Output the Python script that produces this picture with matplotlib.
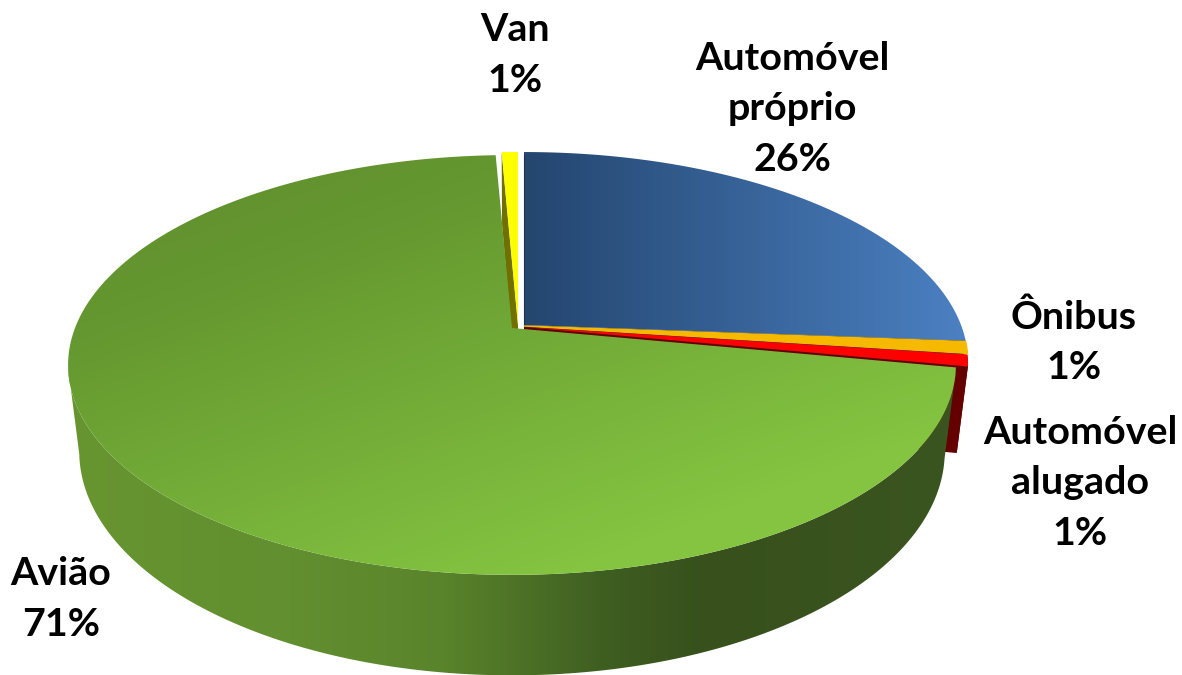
import numpy as np
import matplotlib
matplotlib.use("Agg")
import matplotlib.pyplot as plt
from matplotlib.colors import LinearSegmentedColormap
from matplotlib.patches import Polygon

plt.rcParams['font.family'] = ['Lato', 'DejaVu Sans']

# values (labels are rounded)
categories = ['Automóvel\npróprio', 'Ônibus', 'Automóvel\nalugado', 'Avião', 'Van']
values = [26.2, 0.9, 0.9, 71.3, 0.7]
percent_labels = ['26%', '1%', '1%', '71%', '1%']

# label anchor in pixels
label_x = [792, 1074, 1080, 61, 515]
label_y = [109, 342, 483, 599, 55]

# explosion of each slice: apex position
apex_x = [524, 524, 524, 512, 518]
apex_y = [325, 326, 327, 328, 325]

# perspective of the disc
A_TOP, B_TOP = 437, 203.4
A_BOT, B_BOT = 426, 217
DROP = 84
K = 0.176


def project(ang, i, lower=False):
    # angle is clockwise from 12 o'clock
    X = np.sin(ang)
    Y = np.cos(ang)
    a, b = (A_BOT, B_BOT) if lower else (A_TOP, B_TOP)
    w = 1 + K * Y
    sx = apex_x[i] + a * X / w
    sy = apex_y[i] + (DROP if lower else 0) - b * Y / w
    return sx, sy


def apex(i, lower=False):
    return apex_x[i], apex_y[i] + (DROP if lower else 0)


def top_outline(i):
    x, y = project(np.linspace(start[i], end[i], 200), i)
    ax_, ay_ = apex(i)
    return np.column_stack([np.r_[ax_, x], np.r_[ay_, y]])


def wall_outline(i, a0, a1):
    t = np.linspace(a0, a1, 300)
    x0, y0 = project(t, i)
    x1, y1 = project(t, i, lower=True)
    return np.column_stack([np.r_[x0, x1[::-1]], np.r_[y0, y1[::-1]]])


def face_outline(i, ang):
    x0, y0 = project(np.array([ang]), i)
    x1, y1 = project(np.array([ang]), i, lower=True)
    ax0, ay0 = apex(i)
    ax1, ay1 = apex(i, lower=True)
    return np.array([[ax0, ay0], [x0[0], y0[0]], [x1[0], y1[0]], [ax1, ay1]])


def gradient_fill(ax, outline, colors, angle, zorder):
    # linear gradient over the bounding box, clipped to the outline
    x0, y0 = outline.min(axis=0)
    x1, y1 = outline.max(axis=0)
    xx, yy = np.meshgrid(np.linspace(0, 1, 300), np.linspace(0, 1, 300))
    grad = xx * np.cos(angle) + yy * np.sin(angle)
    grad = (grad - grad.min()) / (grad.max() - grad.min())
    cmap = LinearSegmentedColormap.from_list('g', colors)
    im = ax.imshow(grad, extent=(x0, x1, y1, y0), cmap=cmap, aspect='auto', zorder=zorder,
                   interpolation='bilinear')
    patch = Polygon(outline, closed=True, transform=ax.transData, fc='none', ec='none')
    ax.add_patch(patch)
    im.set_clip_path(patch)


fig = plt.figure(figsize=(11.82, 6.75), dpi=100)
ax = fig.add_axes([0, 0, 1, 1])

cum = np.cumsum(values) / np.sum(values) * 2 * np.pi
start = np.r_[0, cum[:-1]]
end = cum

# van: left radial face, then top
ax.add_patch(Polygon(face_outline(4, start[4]), fc='#707000', ec='none', zorder=1))
ax.add_patch(Polygon(top_outline(4), fc='#FFFF00', ec='none', zorder=2))

# blue top and its dark lower face
gradient_fill(ax, top_outline(0), [(0, '#24466F'), (1, '#4B80C2')], 0, 2)
ax.add_patch(Polygon(face_outline(0, end[0]), fc='#1B3350', ec='none', zorder=3))
bx, by = apex(0)
ax.plot([bx, bx], [by, by - 170], color='#1B3350', lw=0.8, zorder=3)

# ônibus
ax.add_patch(Polygon(top_outline(1), fc='#F6B900', ec='#F6B900', lw=1, zorder=4))

# automóvel alugado: outer wall and radial face, then top
ax.add_patch(Polygon(wall_outline(2, start[2], end[2]), fc='#650000', ec='none', zorder=5))
ax.add_patch(Polygon(face_outline(2, end[2]), fc='#650000', ec='none', zorder=5))
ax.add_patch(Polygon(top_outline(2), fc='#FF0000', ec='none', zorder=6))

# avião: wall with a horizontal gradient, then top
wall_colors = [(0, '#67952F'), (0.25, '#628F30'), (0.42, '#5A842B'), (0.6, '#3F5F21'),
               (0.72, '#37501C'), (1, '#3B5520')]
gradient_fill(ax, wall_outline(3, end[2] + 0.02, 1.44 * np.pi), wall_colors, 0, 7)
gradient_fill(ax, top_outline(3), [(0, '#5F8C2D'), (0.25, '#659830'), (0.8, '#84C441'), (1, '#86C642')], 0.9, 8)

for i in range(len(categories)):
    ax.text(label_x[i], label_y[i], categories[i] + '\n' + percent_labels[i], ha='center', va='center',
            fontsize=28.4, fontweight='bold', color='black', linespacing=1.52, zorder=10)

ax.set_xlim(0, 1182)
ax.set_ylim(675, 0)
ax.axis('off')
fig.savefig('out.png', dpi=100, facecolor='white')
